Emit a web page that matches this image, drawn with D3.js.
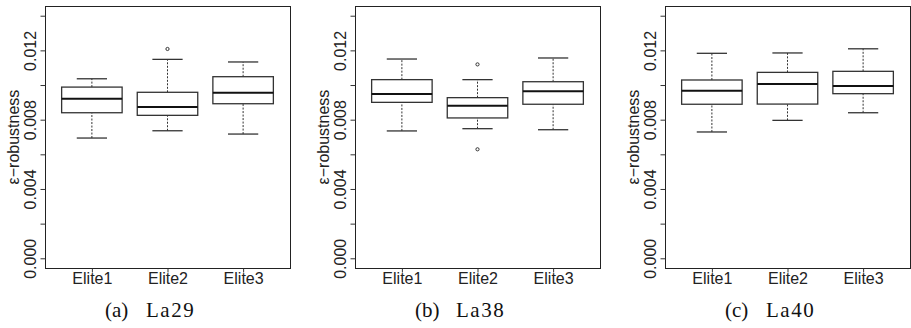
<!DOCTYPE html>
<html>
<head>
<meta charset="utf-8">
<script src="https://cdn.jsdelivr.net/npm/d3@7"></script>
<style>
  body { margin: 0; background: #fff; }
  svg { display: block; }
</style>
</head>
<body>
<svg id="chart" width="911" height="328"></svg>
<script>
// categories and panels
var categories = ["Elite1", "Elite2", "Elite3"];
var panelNames = ["La29", "La38", "La40"];
var panelTags = ["(a)", "(b)", "(c)"];

// box stats per category: [lower whisker, q1, median, q3, upper whisker]
var la29Stats = [
  [0.00694, 0.00840, 0.00921, 0.00988, 0.01036],
  [0.00736, 0.00825, 0.00873, 0.00958, 0.01148],
  [0.00717, 0.00892, 0.00956, 0.01048, 0.01133]
];
var la38Stats = [
  [0.00735, 0.00900, 0.00948, 0.01031, 0.01150],
  [0.00748, 0.00810, 0.00881, 0.00927, 0.01031],
  [0.00742, 0.00889, 0.00964, 0.01019, 0.01156]
];
var la40Stats = [
  [0.00729, 0.00889, 0.00967, 0.01029, 0.01183],
  [0.00796, 0.00890, 0.01006, 0.01073, 0.01185],
  [0.00840, 0.00950, 0.00994, 0.01079, 0.01209]
];

// outliers per category
var la29Outliers = [[], [0.01208], []];
var la38Outliers = [[], [0.01119, 0.00629], []];
var la40Outliers = [[], [], []];

// y axis ticks
var yTicks = [0, 0.002, 0.004, 0.006, 0.008, 0.010, 0.012, 0.014];
var yTickLabels = ["0.000", "", "0.004", "", "0.008", "", "0.012", ""];

var allStats = [la29Stats, la38Stats, la40Stats];
var allOutliers = [la29Outliers, la38Outliers, la40Outliers];

var svg = d3.select("#chart");
var panelStep = 310;
var plotL = 45, plotR = 290, plotT = 6, plotB = 268;
var labelFont = "16px 'Liberation Sans', Arial, sans-serif";

var x = d3.scaleLinear().domain([0.38, 3.62]).range([plotL, plotR]);
var y = d3.scaleLinear().domain([-0.00056, 0.01456]).range([plotB, plotT]);
var boxW = x(1.8) - x(1);

panelNames.forEach(function(name, p) {
  var g = svg.append("g").attr("transform", "translate(" + (p * panelStep) + ",0)");
  var stats = allStats[p];
  var outs = allOutliers[p];

  // frame
  g.append("rect")
    .attr("x", plotL + 0.5).attr("y", plotT + 0.5)
    .attr("width", plotR - plotL).attr("height", plotB - plotT)
    .attr("fill", "none").attr("stroke", "#222").attr("stroke-width", 1);

  // y axis
  var ya = g.append("g")
    .attr("transform", "translate(" + (plotL + 0.5) + ",0)")
    .call(d3.axisLeft(y).tickValues(yTicks).tickSize(5).tickSizeOuter(0)
      .tickFormat(function(d, i) { return yTickLabels[i]; }));
  ya.attr("font-size", null).attr("font-family", null);
  ya.select(".domain").remove();
  ya.selectAll(".tick line").attr("stroke", "#333");
  ya.selectAll(".tick text")
    .attr("x", null).attr("dy", null).attr("y", null)
    .attr("text-anchor", "middle")
    .attr("transform", "translate(-10,0) rotate(-90)")
    .attr("fill", "#222")
    .style("font", labelFont);

  // x axis
  var xa = g.append("g")
    .attr("transform", "translate(0," + (plotB + 0.5) + ")")
    .call(d3.axisBottom(x).tickValues([1, 2, 3]).tickSize(4).tickSizeOuter(0)
      .tickFormat(function(d) { return categories[d - 1]; }));
  xa.attr("font-size", null).attr("font-family", null);
  xa.select(".domain").remove();
  xa.selectAll(".tick line").attr("stroke", "#333");
  xa.selectAll(".tick text")
    .attr("y", 4).attr("dy", "0.71em")
    .attr("fill", "#222")
    .style("font", labelFont);

  // y label
  g.append("text")
    .attr("transform", "translate(19," + ((plotT + plotB) / 2) + ") rotate(-90)")
    .attr("text-anchor", "middle")
    .attr("fill", "#222")
    .style("font", labelFont)
    .text("\u03b5\u2212robustness");

  // boxes
  stats.forEach(function(s, i) {
    var cx = x(i + 1);
    var bg = g.append("g");
    // whiskers
    bg.append("line")
      .attr("x1", cx).attr("x2", cx).attr("y1", y(s[0])).attr("y2", y(s[1]))
      .attr("stroke", "#333").attr("stroke-dasharray", "2,1.5");
    bg.append("line")
      .attr("x1", cx).attr("x2", cx).attr("y1", y(s[3])).attr("y2", y(s[4]))
      .attr("stroke", "#333").attr("stroke-dasharray", "2,1.5");
    // caps
    [s[0], s[4]].forEach(function(v) {
      bg.append("line")
        .attr("x1", cx - boxW / 4).attr("x2", cx + boxW / 4)
        .attr("y1", y(v)).attr("y2", y(v))
        .attr("stroke", "#333").attr("stroke-width", 1.3);
    });
    // box
    bg.append("rect")
      .attr("x", cx - boxW / 2).attr("y", y(s[3]))
      .attr("width", boxW).attr("height", y(s[1]) - y(s[3]))
      .attr("fill", "#fff").attr("stroke", "#333").attr("stroke-width", 1.3);
    // median
    bg.append("line")
      .attr("x1", cx - boxW / 2).attr("x2", cx + boxW / 2)
      .attr("y1", y(s[2])).attr("y2", y(s[2]))
      .attr("stroke", "#111").attr("stroke-width", 2);
    // outliers
    outs[i].forEach(function(v) {
      bg.append("circle")
        .attr("cx", cx).attr("cy", y(v)).attr("r", 1.6)
        .attr("fill", "none").attr("stroke", "#333").attr("stroke-width", 1);
    });
  });

  // caption
  var cap = g.append("text")
    .attr("y", 317)
    .attr("fill", "#111")
    .style("font", "21px 'Liberation Serif', 'Times New Roman', serif");
  cap.append("tspan").attr("x", 105).text(panelTags[p]);
  cap.append("tspan").attr("x", 146).attr("letter-spacing", "1.5px").text(name);
});
</script>
</body>
</html>
